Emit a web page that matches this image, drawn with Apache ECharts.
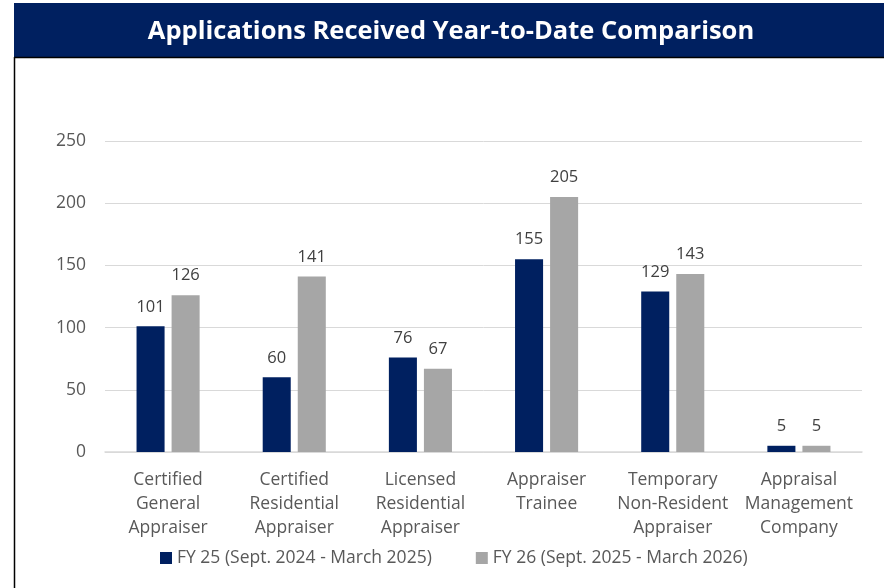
<!DOCTYPE html>
<html>
<head>
<meta charset="utf-8">
<script src="https://cdn.jsdelivr.net/npm/echarts@6/dist/echarts.min.js"></script>
<style>
  html, body { margin: 0; padding: 0; background: #fff; }
  #chart { width: 884px; height: 588px; }
</style>
</head>
<body>
<div id="chart"></div>
<script>
  // categories and values
  const categories = [
    'Certified\nGeneral\nAppraiser',
    'Certified\nResidential\nAppraiser',
    'Licensed\nResidential\nAppraiser',
    'Appraiser\nTrainee',
    'Temporary\nNon-Resident\nAppraiser',
    'Appraisal\nManagement\nCompany'
  ]
  const fy25 = [101, 60, 76, 155, 129, 5]
  const fy26 = [126, 141, 67, 205, 143, 5]
  const seriesNames = ['FY 25 (Sept. 2024 - March 2025)', 'FY 26 (Sept. 2025 - March 2026)']
  const yTicks = [0, 50, 100, 150, 200, 250]

  const font = "'Open Sans', 'Noto Sans', sans-serif"
  let myChart = echarts.init(document.getElementById('chart'))
  myChart.setOption({
    animation: false,
    textStyle: { fontFamily: font },
    graphic: [
      // title band
      { type: 'rect', shape: { x: 14, y: 3, width: 870, height: 54 }, style: { fill: '#002060' } },
      { type: 'line', shape: { x1: 14, y1: 57.5, x2: 884, y2: 57.5 }, style: { stroke: '#000', lineWidth: 1.5 } },
      { type: 'line', shape: { x1: 14.5, y1: 57, x2: 14.5, y2: 588 }, style: { stroke: '#000', lineWidth: 1.5 } },
      {
        type: 'text', x: 451, y: 32,
        style: {
          text: 'Applications Received Year-to-Date Comparison',
          fill: '#fff', font: "bold 25.5px 'Open Sans', sans-serif",
          align: 'center', verticalAlign: 'middle'
        }
      }
    ],
    legend: {
      bottom: 16,
      left: 155,
      itemWidth: 12,
      itemHeight: 12,
      itemGap: 44,
      icon: 'rect',
      textStyle: { fontSize: 17.5, color: '#595959', fontFamily: font },
      data: seriesNames
    },
    grid: { left: 105, right: 22, top: 141, bottom: 136, containLabel: false },
    xAxis: {
      type: 'category',
      data: categories,
      axisLine: { lineStyle: { color: '#d9d9d9', width: 1.5 } },
      axisTick: { show: false },
      axisLabel: { color: '#595959', fontSize: 17.5, lineHeight: 24, margin: 16, interval: 0 }
    },
    yAxis: {
      type: 'value',
      min: yTicks[0],
      max: yTicks[yTicks.length - 1],
      interval: 50,
      axisLine: { show: false },
      axisTick: { show: false },
      axisLabel: { color: '#595959', fontSize: 17.5, margin: 19 },
      splitLine: { lineStyle: { color: '#d9d9d9', width: 1 } }
    },
    series: [
      {
        name: seriesNames[0],
        type: 'bar',
        data: fy25,
        barGap: '25%',
        barCategoryGap: '50%',
        itemStyle: { color: '#002060' },
        label: { show: true, position: 'top', distance: 11, fontSize: 16.5, color: '#404040' }
      },
      {
        name: seriesNames[1],
        type: 'bar',
        data: fy26,
        itemStyle: { color: '#a6a6a6' },
        label: { show: true, position: 'top', distance: 11, fontSize: 16.5, color: '#404040' }
      }
    ]
  })
</script>
</body>
</html>
